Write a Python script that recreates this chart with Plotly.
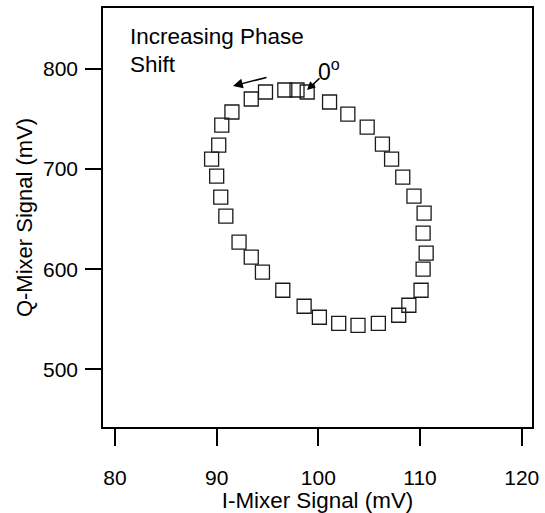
import plotly.graph_objects as go

# I/Q mixer readings (mV), ordered by increasing phase shift starting at 0 deg
i_mixer = [98.9, 97.9, 96.7, 94.8, 93.4, 91.5, 90.5, 90.2, 89.5, 90.0, 90.4, 90.9,
           92.2, 93.4, 94.5, 96.5, 98.6, 100.1, 102.0, 103.9, 105.9, 107.9, 108.9,
           110.1, 110.3, 110.6, 110.3, 110.4, 109.4, 108.3, 107.2, 106.3, 104.8,
           102.9, 101.1]
q_mixer = [777, 779, 779, 777, 770, 757, 744, 724, 710, 693, 672, 653,
           627, 612, 597, 579, 563, 552, 546, 544, 546, 554, 564,
           579, 600, 616, 636, 656, 673, 692, 710, 725, 742,
           755, 767]

x_ticks = [80, 90, 100, 110, 120]
y_ticks = [500, 600, 700, 800]

FONT = "Liberation Sans, Arial, Helvetica, sans-serif"

fig = go.Figure()
fig.add_trace(go.Scatter(
    x=i_mixer, y=q_mixer, mode="markers",
    marker=dict(symbol="square-open", size=14, color="#1a1a1a",
                line=dict(width=1.3, color="#1a1a1a")),
    showlegend=False, hoverinfo="x+y"))

fig.update_layout(
    width=545, height=513,
    margin=dict(l=103, r=13, t=8, b=86),
    paper_bgcolor="white", plot_bgcolor="white",
    font=dict(family=FONT, size=21, color="black"),
    xaxis=dict(range=[78.82, 121.01], tickvals=x_ticks, ticks="outside",
               ticklen=17, tickwidth=1.5, tickcolor="black",
               showline=True, linecolor="black", linewidth=1.5, mirror=True,
               showgrid=False, zeroline=False, ticklabelstandoff=14,
               automargin=False, tickfont=dict(size=21),
               title=dict(text="I-Mixer Signal (mV)", standoff=15,
                          font=dict(size=22.4))),
    yaxis=dict(range=[442.4, 860.9], tickvals=y_ticks, ticks="outside",
               ticklen=16, tickwidth=1.5, tickcolor="black",
               showline=True, linecolor="black", linewidth=1.5, mirror=True,
               showgrid=False, zeroline=False, ticklabelstandoff=3,
               automargin=False, tickfont=dict(size=21),
               title=dict(text="Q-Mixer Signal (mV)", standoff=4,
                          font=dict(size=22))),
)

fig.add_annotation(xref="paper", yref="paper", x=0.058, y=0.9308,
                   xanchor="left", yanchor="middle", showarrow=False,
                   text="Increasing Phase", font=dict(size=22.5))
fig.add_annotation(xref="paper", yref="paper", x=0.058, y=0.864,
                   xanchor="left", yanchor="middle", showarrow=False,
                   text="Shift", font=dict(size=22.5))
fig.add_annotation(xref="paper", yref="paper", x=0.4965, y=0.852,
                   xanchor="left", yanchor="middle", showarrow=False,
                   text="0<sup>o</sup>", font=dict(size=23))
# arrow showing direction of increasing phase
fig.add_annotation(xref="paper", yref="paper", x=0.303, y=0.8138,
                   ax=35, ay=-9, text="", showarrow=True,
                   arrowhead=2, arrowsize=1.3, arrowwidth=1.5, arrowcolor="black")
# arrow pointing at the 0 degree point
fig.add_annotation(xref="paper", yref="paper", x=0.4755, y=0.8043,
                   ax=14, ay=-13, text="", showarrow=True,
                   arrowhead=2, arrowsize=1.1, arrowwidth=1.5, arrowcolor="black")

fig.write_html("out.html", config={"displayModeBar": False},
               post_script="document.body.style.margin='0';")
